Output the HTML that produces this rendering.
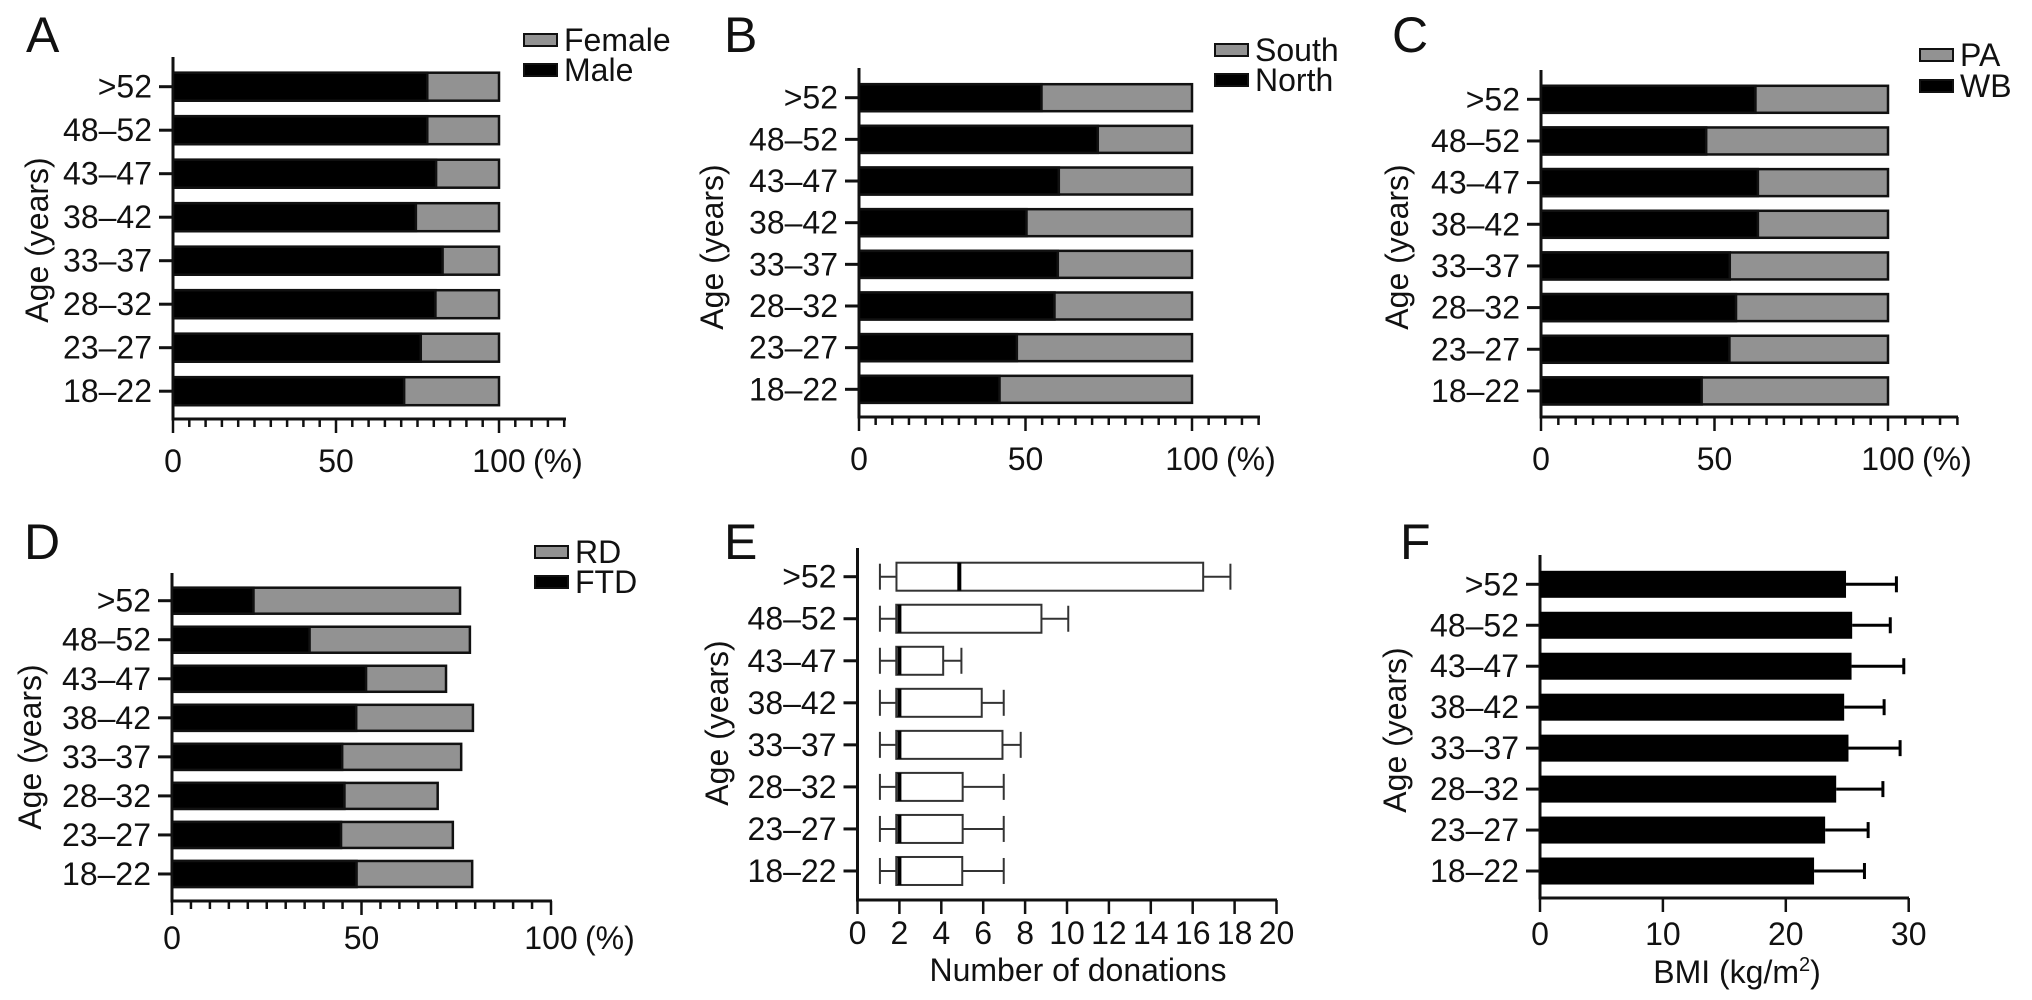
<!DOCTYPE html>
<html><head><meta charset="utf-8"><style>
html,body{margin:0;padding:0;background:#fff;}
svg{display:block;font-family:"Liberation Sans",Arial,sans-serif;}
</style></head><body>
<svg id="fig" width="2032" height="1000" viewBox="0 0 2032 1000" xmlns="http://www.w3.org/2000/svg"></svg>
<script>
const categories = [">52","48–52","43–47","38–42","33–37","28–32","23–27","18–22"];
// Panel A: Male % (Female = 100 - Male)
const maleVals = [78, 78, 80.7, 74.5, 82.7, 80.5, 76, 70.9];
// Panel B: North %
const northVals = [54.8, 71.7, 60, 50.3, 59.7, 58.7, 47.4, 42.2];
// Panel C: WB %
const wbVals = [61.8, 47.6, 62.5, 62.5, 54.4, 56.2, 54.3, 46.3];
// Panel D: FTD % and total (FTD+RD) %
const ftdVals = [21.5, 36.3, 51.2, 48.6, 44.9, 45.5, 44.6, 48.7];
const totalVals = [76, 78.6, 72.3, 79.4, 76.3, 70.1, 74.1, 79.2];
// Panel E: box plots
const eMin = [1.07, 1.07, 1.07, 1.07, 1.07, 1.07, 1.07, 1.07];
const eQ1 = [1.86, 1.85, 1.85, 1.85, 1.85, 1.85, 1.85, 1.85];
const eMed = [4.86, 2, 2, 2, 2, 2, 2, 2];
const eQ3 = [16.5, 8.78, 4.09, 5.93, 6.92, 5.02, 5.02, 5.0];
const eMax = [17.8, 10.06, 4.96, 6.98, 7.79, 6.98, 6.98, 6.98];
const eTicks = [0,2,4,6,8,10,12,14,16,18,20];
// Panel F: BMI mean and mean+SD
const bmiMean = [24.9, 25.4, 25.35, 24.75, 25.1, 24.1, 23.2, 22.3];
const bmiErr = [29.0, 28.5, 29.6, 28.0, 29.3, 27.9, 26.7, 26.4];
const bmiTicks = [0,10,20,30];
const pctTicks = [0,50,100];

const NS = "http://www.w3.org/2000/svg";
const svg = document.getElementById('fig');
function mk(tag, attrs, parent){
  const e = document.createElementNS(NS, tag);
  for (const k in attrs) e.setAttribute(k, attrs[k]);
  (parent||svg).appendChild(e);
  return e;
}
function txt(x,y,s,size,anchor,parent){
  const t = mk('text',{x:x,y:y,'font-size':size,'text-anchor':anchor||'middle',fill:'#111'},parent);
  t.textContent = s;
  return t;
}
const GRAY = '#929292';
const FS = 32;

function frame(p){
  const g = mk('g',{});
  
  
  const L = txt(p.lx, p.ly, p.letter, 50, 'start', g);
  
  
  mk('line',{x1:p.x0,y1:p.top,x2:p.x0,y2:p.axisY+1.5,stroke:'#111','stroke-width':3},g);
  mk('line',{x1:p.x0-1.5,y1:p.axisY,x2:p.xEnd,y2:p.axisY,stroke:'#111','stroke-width':3},g);
  categories.forEach((c,i)=>{
    mk('line',{x1:p.x0-14,y1:p.ys[i],x2:p.x0,y2:p.ys[i],stroke:'#111','stroke-width':3},g);
    const t = txt(p.x0-21, p.ys[i]+11, c, FS, 'end', g);
    
    
  });
  const a = txt(0,0,'Age (years)',FS,'middle',g);
  a.setAttribute('transform','translate('+p.ageX+','+p.ageY+') rotate(-90)');
  a.setAttribute('dy','11');
  
  
  return g;
}
function pctAxis(g, sx, x0, axisY, maxV, labY){
  for (let v=0; v<=maxV; v+=5){
    const major = v%50===0;
    mk('line',{x1:sx(v),y1:axisY,x2:sx(v),y2:axisY+(major?14:8),stroke:'#111','stroke-width':2.5},g);
  }
  pctTicks.forEach(v=>{
    const t = txt(sx(v), labY, String(v), FS, 'middle', g);
    
    
  });
  const u = txt(sx(100)+34, labY, '(%)', FS, 'start', g);
  
  
}
function legend(g, x, y1, y2, grayName, blackName){
  const l1 = mk('rect',{x:x,y:y1-6,width:33,height:12,fill:GRAY,stroke:'#111','stroke-width':2},g);
  
  
  const t1 = txt(x+40, y1+11, grayName, FS, 'start', g);
  
  
  const l2 = mk('rect',{x:x,y:y2-6,width:33,height:12,fill:'#000',stroke:'#111','stroke-width':2},g);
  
  
  const t2 = txt(x+40, y2+11, blackName, FS, 'start', g);
  
  
}
function stacked(p, blackVals, totVals, grayName, blackName, bh){
  const g = frame(p);
  const sx = v => p.x0 + (v/100)*(p.x100 - p.x0);
  categories.forEach((c,i)=>{
    const y = p.ys[i]-bh/2;
    const tot = totVals ? totVals[i] : 100;
    const r1 = mk('rect',{x:sx(0),y:y,width:sx(tot)-sx(0),height:bh,fill:GRAY,stroke:'#111','stroke-width':2.5},g);
    
    
    const r2 = mk('rect',{x:sx(0),y:y,width:sx(blackVals[i])-sx(0),height:bh,fill:'#000',stroke:'#111','stroke-width':2.5},g);
    
    
  });
  pctAxis(g, sx, p.x0, p.axisY, p.maxV, p.labY);
  legend(g, p.legX, p.legY1, p.legY2, grayName, blackName);
}
function rows(a, step){ return categories.map((c,i)=>a+i*step); }

stacked({x0:173,x100:499,top:57,axisY:419,xEnd:566,maxV:120,labY:472,ys:rows(86.7,43.5),letter:'A',lx:26,ly:52,ageX:37,ageY:240,
  legX:524,legY1:40,legY2:70}, maleVals, null, 'Female', 'Male', 28);
stacked({x0:859,x100:1192,top:68,axisY:417,xEnd:1260,maxV:120,labY:470,ys:rows(97.7,41.66),letter:'B',lx:724,ly:52,ageX:712,ageY:247,
  legX:1215,legY1:50,legY2:80}, northVals, null, 'South', 'North', 27);
stacked({x0:1541,x100:1888,top:70,axisY:417,xEnd:1958,maxV:120,labY:470,ys:rows(99.3,41.66),letter:'C',lx:1392,ly:52,ageX:1397,ageY:247,
  legX:1920,legY1:55,legY2:86}, wbVals, null, 'PA', 'WB', 27);
stacked({x0:172,x100:551,top:573,axisY:901,xEnd:552,maxV:100,labY:949,ys:rows(600.7,39.04),letter:'D',lx:24,ly:559,ageX:30,ageY:747,
  legX:535,legY1:552,legY2:582}, ftdVals, totalVals, 'RD', 'FTD', 26);

// Panel E
(function(){
  const p = {x0:857.5,top:548,axisY:900,xEnd:1277,ys:rows(576.7,42.04),letter:'E',lx:724,ly:559,ageX:717,ageY:723};
  const g = frame(p);
  const sx = v => p.x0 + v*(1276.5-857.5)/20;
  const bh = 28;
  categories.forEach((c,i)=>{
    const y = p.ys[i];
    const bg = mk('g',{},g);
    
    
    mk('line',{x1:sx(eMin[i]),y1:y,x2:sx(eQ1[i]),y2:y,stroke:'#333','stroke-width':2},bg);
    mk('line',{x1:sx(eMin[i]),y1:y-13,x2:sx(eMin[i]),y2:y+13,stroke:'#333','stroke-width':2},bg);
    mk('line',{x1:sx(eQ3[i]),y1:y,x2:sx(eMax[i]),y2:y,stroke:'#333','stroke-width':2},bg);
    mk('line',{x1:sx(eMax[i]),y1:y-13,x2:sx(eMax[i]),y2:y+13,stroke:'#333','stroke-width':2},bg);
    mk('rect',{x:sx(eQ1[i]),y:y-bh/2,width:sx(eQ3[i])-sx(eQ1[i]),height:bh,fill:'#fff',stroke:'#333','stroke-width':2},bg);
    mk('line',{x1:sx(eMed[i]),y1:y-bh/2,x2:sx(eMed[i]),y2:y+bh/2,stroke:'#000','stroke-width':4},bg);
  });
  eTicks.forEach(v=>{
    mk('line',{x1:sx(v),y1:p.axisY,x2:sx(v),y2:p.axisY+14,stroke:'#111','stroke-width':2.5},g);
    const t = txt(sx(v), 944, String(v), FS, 'middle', g);
    
    
  });
  const tt = txt(1078, 981, 'Number of donations', FS, 'middle', g);
  
  
})();

// Panel F
(function(){
  const p = {x0:1540,top:555,axisY:898,xEnd:1909,ys:rows(584.3,40.96),letter:'F',lx:1400,ly:559,ageX:1395,ageY:730};
  const g = frame(p);
  const sx = v => p.x0 + v*12.29;
  const bh = 27;
  categories.forEach((c,i)=>{
    const y = p.ys[i];
    mk('line',{x1:sx(bmiMean[i]),y1:y,x2:sx(bmiErr[i]),y2:y,stroke:'#000','stroke-width':3},g);
    const cap = mk('line',{x1:sx(bmiErr[i]),y1:y-8,x2:sx(bmiErr[i]),y2:y+8,stroke:'#000','stroke-width':3},g);
    
    
    const r = mk('rect',{x:sx(0),y:y-bh/2,width:sx(bmiMean[i])-sx(0),height:bh,fill:'#000'},g);
    
    
  });
  bmiTicks.forEach(v=>{
    mk('line',{x1:sx(v),y1:p.axisY,x2:sx(v),y2:p.axisY+14,stroke:'#111','stroke-width':2.5},g);
    const t = txt(sx(v), 945, String(v), FS, 'middle', g);
    
    
  });
  const tt = mk('text',{x:1737,y:983,'font-size':FS,'text-anchor':'middle',fill:'#111'},g);
  
  
  tt.appendChild(document.createTextNode('BMI (kg/m'));
  const sup = mk('tspan',{'font-size':20,dy:-12},tt);
  sup.textContent = '2';
  const cl = mk('tspan',{dy:12},tt);
  cl.textContent = ')';
})();
</script>
</body></html>
